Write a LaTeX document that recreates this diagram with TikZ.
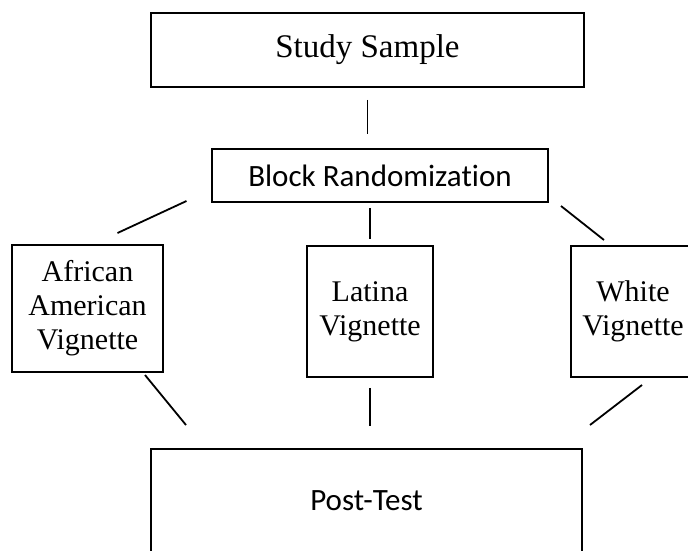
\documentclass[tikz,border=0pt]{standalone}
\usepackage{fontspec}
\setmainfont{Liberation Serif}
\setsansfont{Carlito}[Ligatures=NoCommon]
\begin{document}
\begin{tikzpicture}[x=1pt, y=-1pt, line width=1.8pt,
    main node/.style={rectangle, draw, line width=1.8pt, align=center, inner sep=0pt},
    serif node/.style={main node, font=\fontsize{30}{34}\selectfont},
    sans node/.style={main node, font=\sffamily\fontsize{31}{36}\selectfont}]
            \useasboundingbox (0,0) rectangle (688,550);
            \clip (0,0) rectangle (688,550);

              \node[serif node, font=\fontsize{33}{36}\selectfont, minimum width=433, minimum height=74] (sample) at (367.5,50) {Study Sample};
              \node[sans node, minimum width=336, minimum height=53] (block) at (380,175.5) {Block Randomization};
              \node[serif node, minimum width=151, minimum height=127] (african) at (87.5,308.5) {African\\American\\Vignette};
              \node[serif node, minimum width=126, minimum height=131] (latina) at (370,311.5) {Latina\\Vignette};
              \node[serif node, minimum width=124, minimum height=131] (white) at (633,311.5) {White\\Vignette};
              \node[sans node, minimum width=431, minimum height=104] (post) at (366.5,501) {Post-Test};

              % free ends of the slanted lines
              \coordinate (bl1) at (186.5,201);
              \coordinate (bl2) at (117.5,233);
              \coordinate (br1) at (561,206);
              \coordinate (br2) at (604,240);
              \coordinate (pl1) at (145,375);
              \coordinate (pl2) at (186,425);
              \coordinate (pr1) at (642,385);
              \coordinate (pr2) at (590,425);

              \path[draw]
                (sample.south) edge[shorten <=12, shorten >=14] (sample.south |- block.north)
                (latina.north |- block.south) edge[shorten <=5, shorten >=6] (latina.north)
                (latina.south) edge[shorten <=10, shorten >=22] (latina.south |- post.north)
                (bl1) edge (bl2)
                (br1) edge (br2)
                (pl1) edge (pl2)
                (pr1) edge (pr2);

            \end{tikzpicture}
\end{document}
